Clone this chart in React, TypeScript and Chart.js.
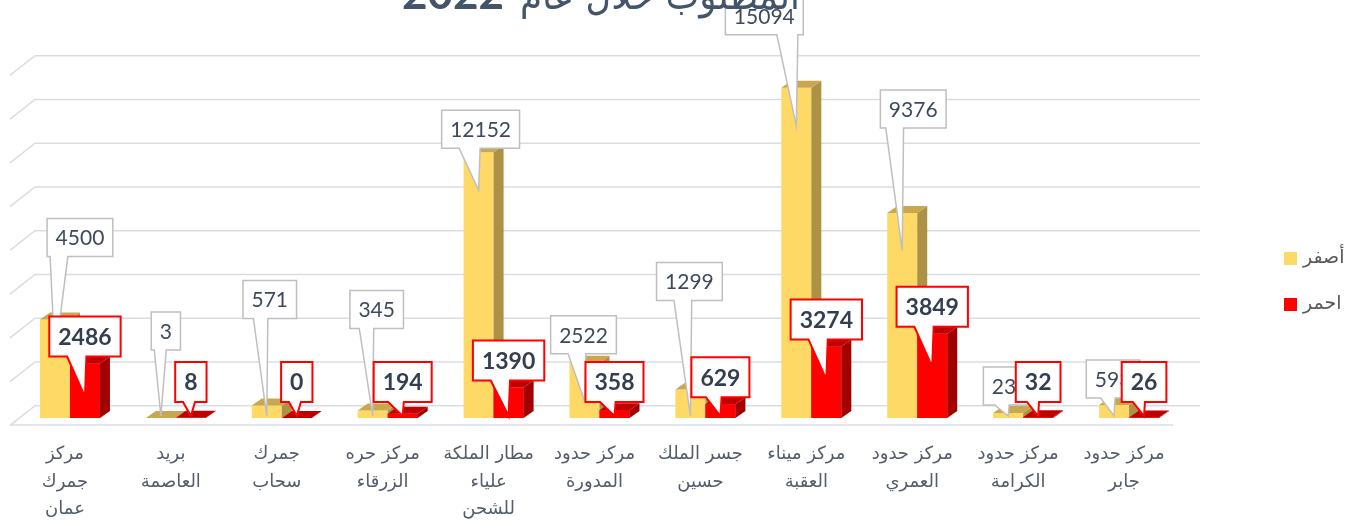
import React, { useEffect, useRef } from "react";
import { Chart, registerables } from "chart.js";

Chart.register(...registerables);

// ---------- data ----------
const categories: string[][] = [
  ["مركز", "جمرك", "عمان"],
  ["بريد", "العاصمة"],
  ["جمرك", "سحاب"],
  ["مركز حره", "الزرقاء"],
  ["مطار الملكة", "علياء", "للشحن"],
  ["مركز حدود", "المدورة"],
  ["جسر الملك", "حسين"],
  ["مركز ميناء", "العقبة"],
  ["مركز حدود", "العمري"],
  ["مركز حدود", "الكرامة"],
  ["مركز حدود", "جابر"],
];
const yellowValues = [4500, 3, 571, 345, 12152, 2522, 1299, 15094, 9376, 232, 593];
const redValues = [2486, 8, 0, 194, 1390, 358, 629, 3274, 3849, 32, 26];
const seriesNames = ["أصفر", "احمر"];
const yMax = 16000;
const yStep = 2000;
const titleText = "المطلوب خلال عام";
const titleYear = "2022";

// ---------- style ----------
const YELLOW = "#FFD966";
const YELLOW_SIDE = "#AD9145";
const YELLOW_TOP = "#C8A84F";
const RED = "#FF0000";
const RED_SIDE = "#A30000";
const RED_TOP = "#C00000";
const GRID = "#D9DDE3";
const TEXT = "#333F50";
const AXIS_TEXT = "#535C6A";
const DEPTH_X = 10;
const DEPTH_Y = 7;
// callout nudges for the yellow labels (horizontal shift, gap above the bar top)
const yellowCalloutDx = [25, 5, 3, 4, 2, -1, -1, -32, 11, 2, -1];
const yellowCalloutGap = [63, 68, 87, 82, 4, 9, 89, 53, 85, 8, 7];

function drawCallout(
  ctx: CanvasRenderingContext2D,
  cx: number,
  bottom: number,
  text: string,
  font: string,
  border: string,
  borderWidth: number,
  tipX: number,
  tipY: number,
  pad: number,
  h: number,
  textColor: string
) {
  ctx.save();
  ctx.font = font;
  const tw = ctx.measureText(text).width;
  const w = tw + pad;
  const left = cx - w / 2;
  const right = cx + w / 2;
  const top = bottom - h;
  let wb0 = tipX - 0.25 * w;
  const ww = Math.max(12, 0.27 * w);
  wb0 = Math.max(left + 3, Math.min(wb0, right - ww - 3));
  const wb1 = wb0 + ww;
  ctx.beginPath();
  ctx.moveTo(left, top);
  ctx.lineTo(right, top);
  ctx.lineTo(right, bottom);
  if (tipY > bottom) {
    ctx.lineTo(wb1, bottom);
    ctx.lineTo(tipX, tipY);
    ctx.lineTo(wb0, bottom);
  }
  ctx.lineTo(left, bottom);
  ctx.closePath();
  ctx.fillStyle = "#FFFFFF";
  ctx.fill();
  ctx.lineWidth = borderWidth;
  ctx.strokeStyle = border;
  ctx.lineJoin = "miter";
  ctx.stroke();
  ctx.fillStyle = textColor;
  ctx.textAlign = "center";
  ctx.textBaseline = "middle";
  ctx.fillText(text, cx, top + h / 2 + 1);
  ctx.restore();
}

const threeDPlugin = {
  id: "threeD",
  beforeDatasetsDraw(chart: any) {
    const { ctx, chartArea, scales } = chart;
    const y = scales.y;
    const { left, right, bottom } = chartArea;
    const bx = 18, by = -12.3, fx = -7, fy = 7;
    ctx.save();
    ctx.strokeStyle = GRID;
    ctx.lineWidth = 1.6;
    for (let v = 0; v <= yMax; v += yStep) {
      const py = y.getPixelForValue(v);
      ctx.beginPath();
      ctx.moveTo(left + fx, py + fy + 0.3);
      ctx.lineTo(left + bx, py + by);
      ctx.lineTo(right + bx, py + by);
      ctx.stroke();
    }
    ctx.beginPath();
    ctx.moveTo(left + fx, bottom + fy);
    ctx.lineTo(right - 9, bottom + fy);
    ctx.stroke();
    ctx.restore();
  },
  afterDatasetsDraw(chart: any) {
    const { ctx } = chart;
    const metaY = chart.getDatasetMeta(0);
    const metaR = chart.getDatasetMeta(1);
    const face = (el: any, side: string, topc: string) => {
      const p = el.getProps(["x", "y", "base", "width"], true);
      const x0 = p.x - p.width / 2;
      const x1 = p.x + p.width / 2;
      const t = Math.min(p.y, p.base);
      const b = p.base;
      ctx.fillStyle = side;
      ctx.beginPath();
      ctx.moveTo(x1, t);
      ctx.lineTo(x1 + DEPTH_X, t - DEPTH_Y);
      ctx.lineTo(x1 + DEPTH_X, b - DEPTH_Y);
      ctx.lineTo(x1, b);
      ctx.closePath();
      ctx.fill();
      ctx.fillStyle = topc;
      ctx.beginPath();
      ctx.moveTo(x0, t);
      ctx.lineTo(x0 + DEPTH_X, t - DEPTH_Y);
      ctx.lineTo(x1 + DEPTH_X, t - DEPTH_Y);
      ctx.lineTo(x1, t);
      ctx.closePath();
      ctx.fill();
    };
    ctx.save();
    for (let i = 0; i < categories.length; i++) {
      const ey = metaY.data[i];
      const er = metaR.data[i];
      if (ey) face(ey, YELLOW_SIDE, YELLOW_TOP);
      if (er) {
        er.draw(ctx);
        face(er, RED_SIDE, RED_TOP);
      }
    }
    ctx.restore();

    // yellow callouts
    for (let i = 0; i < categories.length; i++) {
      const el = metaY.data[i];
      if (!el) continue;
      const p = el.getProps(["x", "y", "base"], true);
      const tipY = Math.min(p.y + 38, p.base - 2);
      drawCallout(
        ctx,
        p.x + yellowCalloutDx[i],
        p.y - yellowCalloutGap[i],
        String(yellowValues[i]),
        "21px Lato",
        "#BFBFBF",
        1.5,
        p.x,
        tipY,
        17,
        38,
        "#3E4A5C"
      );
    }
    // red callouts
    for (let i = 0; i < categories.length; i++) {
      const el = metaR.data[i];
      if (!el) continue;
      const p = el.getProps(["x", "y", "base"], true);
      const bottom = Math.min(p.y - 7, p.base - 16);
      const tipY = Math.min(p.y + 33, p.base - 2);
      drawCallout(
        ctx,
        p.x,
        bottom,
        String(redValues[i]),
        "bold 23px Lato",
        "#FF0000",
        2,
        p.x,
        tipY,
        18,
        40,
        TEXT
      );
    }
  },
  afterDraw(chart: any) {
    const { ctx } = chart;
    ctx.save();
    // title (mostly cut off at the top edge)
    ctx.fillStyle = "#44546A";
    ctx.textBaseline = "alphabetic";
    ctx.textAlign = "left";
    ctx.font = "bold 44px Lato";
    ctx.fillText(titleYear, 402, 9);
    ctx.font = "40px 'DejaVu Sans'";
    ctx.direction = "rtl";
    ctx.textAlign = "left";
    ctx.fillText(titleText, 520, 9, 280);
    ctx.direction = "ltr";
    // legend
    const colors = [YELLOW, RED];
    const ys = [252, 298];
    ctx.font = "19px 'DejaVu Sans'";
    ctx.textBaseline = "middle";
    for (let i = 0; i < seriesNames.length; i++) {
      ctx.fillStyle = colors[i];
      ctx.fillRect(1284, ys[i], 13, 13);
      ctx.fillStyle = "#595959";
      ctx.textAlign = "left";
      ctx.fillText(seriesNames[i], 1303, ys[i] + 6);
    }
    ctx.restore();
  },
};

export default function App() {
  const ref = useRef<HTMLCanvasElement | null>(null);
  useEffect(() => {
    if (!ref.current) return;
    const chart = new Chart(ref.current, {
      type: "bar",
      data: {
        labels: categories,
        datasets: [
          {
            label: seriesNames[0],
            data: yellowValues,
            backgroundColor: YELLOW,
            borderWidth: 0,
            barPercentage: 1,
            categoryPercentage: 0.5666,
          },
          {
            label: seriesNames[1],
            data: redValues,
            backgroundColor: RED,
            borderWidth: 0,
            barPercentage: 1,
            categoryPercentage: 0.5666,
          },
        ],
      },
      options: {
        responsive: false,
        animation: false,
        devicePixelRatio: 1,
        layout: { padding: { top: 68, left: 17, right: 188, bottom: 0 } },
        plugins: {
          legend: { display: false },
          title: { display: false },
          tooltip: { enabled: false },
        },
        scales: {
          x: {
            grid: { display: false, drawTicks: false },
            border: { display: false },
            ticks: {
              color: AXIS_TEXT,
              font: { family: "'DejaVu Sans'", size: 18, lineHeight: 1.55 },
              padding: 22,
              labelOffset: -5,
              maxRotation: 0,
              autoSkip: false,
            },
            afterFit: (s: any) => {
              s.height = 103;
            },
          },
          y: {
            display: false,
            min: 0,
            max: yMax,
            ticks: { stepSize: yStep },
          },
        },
      },
      plugins: [threeDPlugin],
    });
    return () => chart.destroy();
  }, []);
  return (
    <div style={{ position: "absolute", left: 0, top: 0, width: 1370, height: 521, background: "#fff" }}>
      <canvas ref={ref} width={1370} height={521} style={{ display: "block" }} />
    </div>
  );
}
